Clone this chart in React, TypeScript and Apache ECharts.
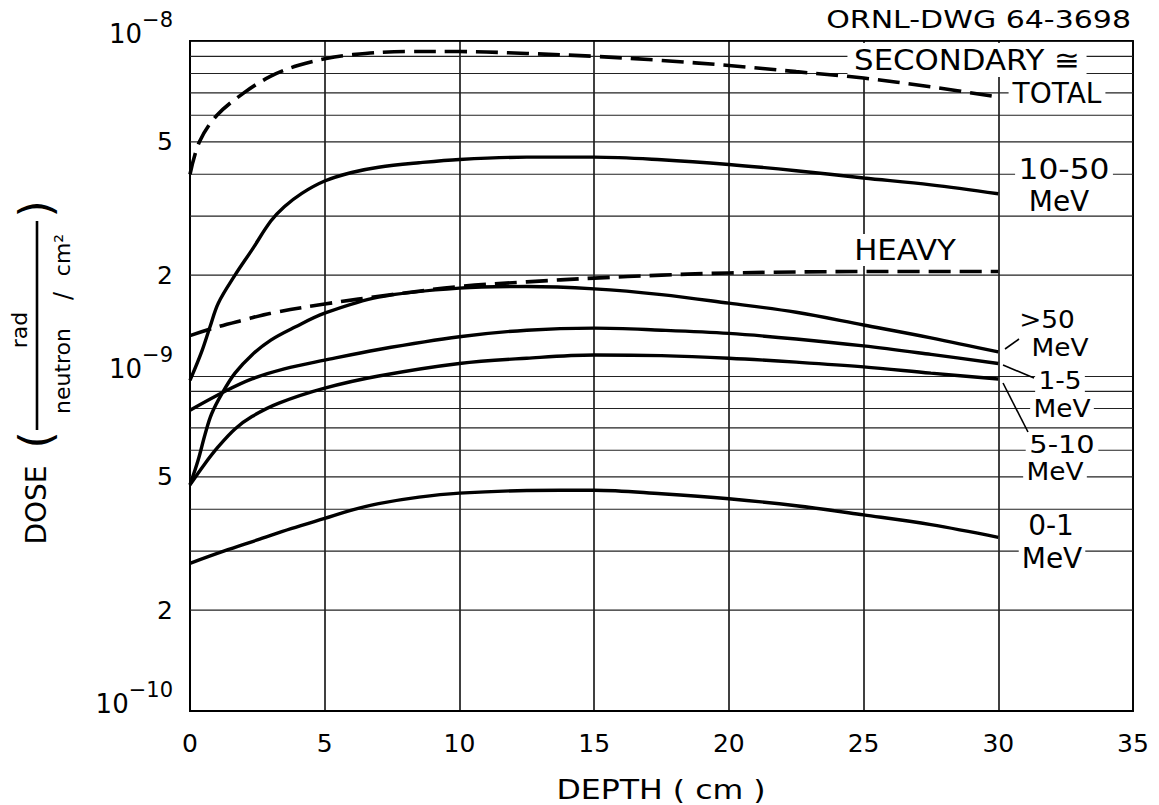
import React, { useEffect, useRef } from "react";
import * as echarts from "echarts";

const FONT = "'DejaVu Sans', sans-serif";

// Depth axis ticks (cm)
const depthTicks = [0, 5, 10, 15, 20, 25, 30, 35];

// SECONDARY ≅ TOTAL (dashed)
const totalDepth = [0, 0.35, 1, 2, 3, 4, 5, 6, 8, 10, 12.5, 15, 17.5, 20, 22.5, 25, 27.5, 30];
const totalDose = [4.0e-9, 5.0e-9, 6.0e-9, 7.0e-9, 7.85e-9, 8.45e-9, 8.85e-9, 9.1e-9, 9.3e-9, 9.3e-9, 9.18e-9, 9.0e-9, 8.75e-9, 8.45e-9, 8.1e-9, 7.75e-9, 7.3e-9, 6.8e-9];

// 10-50 MeV
const mev10to50Depth = [0, 0.43, 0.74, 1.05, 1.67, 2.3, 3.0, 3.5, 4.15, 5, 6, 7, 8.5, 10, 12.5, 15, 17.5, 20, 22.5, 25, 27.5, 30];
const mev10to50Dose = [0.97e-9, 1.18e-9, 1.4e-9, 1.65e-9, 2.0e-9, 2.38e-9, 2.9e-9, 3.2e-9, 3.51e-9, 3.82e-9, 4.05e-9, 4.2e-9, 4.33e-9, 4.43e-9, 4.5e-9, 4.5e-9, 4.42e-9, 4.28e-9, 4.1e-9, 3.9e-9, 3.72e-9, 3.5e-9];

// HEAVY (dashed)
const heavyDepth = [0, 1, 2, 3, 5, 7.5, 10, 12.5, 15, 17.5, 20, 25, 30];
const heavyDose = [1.32e-9, 1.4e-9, 1.47e-9, 1.54e-9, 1.64e-9, 1.75e-9, 1.85e-9, 1.91e-9, 1.96e-9, 2.0e-9, 2.03e-9, 2.05e-9, 2.05e-9];

// >50 MeV
const mevOver50Depth = [0, 0.3, 0.56, 0.8, 1.2, 1.67, 2.3, 3.0, 3.9, 5, 7, 10, 12.5, 15, 17.5, 20, 22.5, 25, 27.5, 30];
const mevOver50Dose = [0.473e-9, 0.56e-9, 0.67e-9, 0.77e-9, 0.89e-9, 1.02e-9, 1.156e-9, 1.28e-9, 1.4e-9, 1.54e-9, 1.72e-9, 1.83e-9, 1.85e-9, 1.82e-9, 1.75e-9, 1.65e-9, 1.55e-9, 1.42e-9, 1.3e-9, 1.18e-9];

// 1-5 MeV
const mev1to5Depth = [0, 1.3, 2.3, 3.5, 5, 7, 10, 12.5, 15, 17.5, 20, 22.5, 25, 27.5, 30];
const mev1to5Dose = [0.79e-9, 0.9e-9, 0.98e-9, 1.05e-9, 1.115e-9, 1.2e-9, 1.31e-9, 1.37e-9, 1.39e-9, 1.37e-9, 1.34e-9, 1.29e-9, 1.23e-9, 1.16e-9, 1.09e-9];

// 5-10 MeV
const mev5to10Depth = [0, 0.5, 1.05, 1.67, 2.3, 3.3, 5, 7, 10, 12.5, 15, 17.5, 20, 22.5, 25, 27.5, 30];
const mev5to10Dose = [0.473e-9, 0.54e-9, 0.615e-9, 0.695e-9, 0.757e-9, 0.83e-9, 0.92e-9, 1.0e-9, 1.09e-9, 1.13e-9, 1.155e-9, 1.15e-9, 1.13e-9, 1.1e-9, 1.065e-9, 1.02e-9, 0.98e-9];

// 0-1 MeV
const mev0to1Depth = [0, 1.25, 2.5, 3.75, 5, 6, 7, 8.5, 10, 12.5, 15, 17.5, 20, 22.5, 25, 27.5, 30];
const mev0to1Dose = [0.276e-9, 0.3e-9, 0.324e-9, 0.35e-9, 0.376e-9, 0.398e-9, 0.416e-9, 0.435e-9, 0.447e-9, 0.455e-9, 0.456e-9, 0.445e-9, 0.43e-9, 0.41e-9, 0.385e-9, 0.36e-9, 0.33e-9];

// Dose axis: decades (labelled 10^n) and minor grid values (labelled 2 and 5)
const decadeDose = [1e-10, 1e-9, 1e-8];
const minorGridDose = [2e-10, 3e-10, 4e-10, 5e-10, 6e-10, 7e-10, 8e-10, 9e-10, 2e-9, 3e-9, 4e-9, 5e-9, 6e-9, 7e-9, 8e-9, 9e-9];
const labeledMinorDose = [2e-10, 5e-10, 2e-9, 5e-9];
const labeledMinorText = ["2", "5", "2", "5"];

export default function App() {
  const ref = useRef<HTMLDivElement>(null);

  useEffect(() => {
    if (!ref.current) return;
    const chart = echarts.init(ref.current, null, { renderer: "svg" });

    const xMin = depthTicks[0];
    const xMax = depthTicks[depthTicks.length - 1];

    const pairs = (xs: number[], ys: number[]) => xs.map((x, i) => [x, ys[i]]);
    const curve = (name: string, xs: number[], ys: number[], dashed: boolean) => ({
      name,
      type: "line",
      data: pairs(xs, ys),
      showSymbol: false,
      smooth: 0.35,
      z: 3,
      silent: true,
      lineStyle: {
        color: "#000",
        width: dashed ? 3.6 : 3.4,
        type: dashed ? [22, 9] : "solid",
        cap: "butt",
      },
      emphasis: { disabled: true },
    });

    const gridSeries = minorGridDose.map((v, i) => ({
      name: `grid-${i}`,
      type: "line",
      data: [
        [xMin, v],
        [xMax, v],
      ],
      showSymbol: false,
      silent: true,
      z: 1,
      lineStyle: { color: "#222", width: 1.1 },
      emphasis: { disabled: true },
    }));

    const labelBase = { fontFamily: FONT, color: "#000", opacity: 1 };
    const labelScatter = {
      type: "scatter",
      symbolSize: 0,
      silent: true,
      z: 1,
      itemStyle: { opacity: 1, color: "#000" },
      emphasis: { disabled: true },
    };

    const minorLabelSeries = {
      ...labelScatter,
      name: "minor-labels",
      data: labeledMinorDose.map((v) => [xMin, v]),
      label: {
        ...labelBase,
        show: true,
        position: "left",
        distance: 17,
        fontSize: 25,
        formatter: (p: any) => labeledMinorText[p.dataIndex],
      },
    };

    const expOf = (v: number) => Math.round(Math.log10(v));
    const SUP_SIZE = 21;
    const supText = (v: number) => "\u2212" + String(Math.abs(expOf(v)));
    const supWidth = (v: number) => SUP_SIZE * (0.838 + 0.636 * String(Math.abs(expOf(v))).length);

    const decadeBaseSeries = {
      ...labelScatter,
      name: "decade-base",
      data: decadeDose.map((v) => ({
        value: [xMin, v],
        label: { distance: 17 + supWidth(v) },
      })),
      label: {
        ...labelBase,
        show: true,
        position: "left",
        fontSize: 26,
        offset: [0, -7],
        formatter: () => "10",
      },
    };

    const decadeSupSeries = {
      ...labelScatter,
      name: "decade-exponent",
      data: decadeDose.map((v) => [xMin, v]),
      label: {
        ...labelBase,
        show: true,
        position: "left",
        distance: 17,
        fontSize: SUP_SIZE,
        offset: [0, -21],
        formatter: (p: any) => supText(decadeDose[p.dataIndex]),
      },
    };

    const txt = (
      text: string,
      x: number,
      y: number,
      size: number,
      opts: { sx?: number; align?: string; rot?: number; bg?: boolean; pad?: number[]; lh?: number } = {}
    ) => ({
      type: "text",
      x,
      y,
      scaleX: opts.sx ?? 1,
      rotation: opts.rot ?? 0,
      z: 2,
      silent: true,
      style: {
        text,
        font: `${size}px ${FONT}`,
        fill: "#000",
        align: opts.align ?? "center",
        textAlign: opts.align ?? "center",
        verticalAlign: "middle",
        textVerticalAlign: "middle",
        lineHeight: opts.lh,
        backgroundColor: opts.bg ? "#fff" : undefined,
        padding: opts.bg ? opts.pad ?? [0, 3] : undefined,
      },
    });

    const seg = (x1: number, y1: number, x2: number, y2: number, w: number) => ({
      type: "line",
      z: 4,
      silent: true,
      shape: { x1, y1, x2, y2 },
      style: { stroke: "#000", lineWidth: w },
    });

    const option: any = {
      animation: false,
      backgroundColor: "#fff",
      grid: {
        left: 190,
        right: 26,
        top: 41,
        bottom: 94,
        show: true,
        borderColor: "#000",
        borderWidth: 1.8,
        backgroundColor: "transparent",
      },
      xAxis: {
        type: "value",
        min: xMin,
        max: xMax,
        interval: 5,
        axisLine: { show: true, lineStyle: { color: "#000", width: 1.8 } },
        axisTick: { show: false },
        axisLabel: { fontSize: 25, fontFamily: FONT, color: "#000", margin: 20 },
        splitLine: { show: true, lineStyle: { color: "#000", width: 1.5 } },
      },
      yAxis: {
        type: "log",
        logBase: 10,
        min: decadeDose[0],
        max: decadeDose[decadeDose.length - 1],
        axisLine: { show: true, lineStyle: { color: "#000", width: 1.8 } },
        axisTick: { show: false },
        axisLabel: { show: false },
        splitLine: { show: true, lineStyle: { color: "#222", width: 1.1 } },
      },
      series: [
        ...gridSeries,
        minorLabelSeries,
        decadeBaseSeries,
        decadeSupSeries,
        curve("SECONDARY ≅ TOTAL", totalDepth, totalDose, true),
        curve("10-50 MeV", mev10to50Depth, mev10to50Dose, false),
        curve("HEAVY", heavyDepth, heavyDose, true),
        curve(">50 MeV", mevOver50Depth, mevOver50Dose, false),
        curve("1-5 MeV", mev1to5Depth, mev1to5Dose, false),
        curve("5-10 MeV", mev5to10Depth, mev5to10Dose, false),
        curve("0-1 MeV", mev0to1Depth, mev0to1Dose, false),
      ],
      graphic: {
        elements: [
          txt("ORNL-DWG 64-3698", 1131, 19, 25, { sx: 1.2, align: "right" }),
          txt("SECONDARY ≅", 967, 60, 28, { sx: 1.1, bg: true, pad: [2, 6], lh: 30 }),
          txt("TOTAL", 1057, 93, 28, { bg: true, pad: [1, 4], lh: 26 }),
          txt("10-50", 1064, 169, 28, { sx: 1.12, bg: true, lh: 26 }),
          txt("MeV", 1059, 201, 28, { bg: true, lh: 26 }),
          txt("HEAVY", 905, 250, 28, { sx: 1.1, bg: true, pad: [2, 4], lh: 28 }),
          txt(">50", 1047, 320, 24, { sx: 1.1, bg: true, lh: 22 }),
          txt("MeV", 1060, 348, 24, { sx: 1.1, bg: true, lh: 22 }),
          txt("1-5", 1060, 381, 24, { sx: 1.1, bg: true, lh: 22 }),
          txt("MeV", 1062, 409, 24, { sx: 1.1, bg: true, lh: 22 }),
          txt("5-10", 1062, 444, 24, { sx: 1.2, bg: true, lh: 22 }),
          txt("MeV", 1055, 472, 24, { sx: 1.1, bg: true, lh: 22 }),
          txt("0-1", 1051, 525, 28, { bg: true, lh: 26 }),
          txt("MeV", 1052, 558, 28, { bg: true, lh: 26 }),
          seg(1005, 349, 1019, 339, 1.6),
          seg(1003, 365, 1034, 378, 1.6),
          seg(1003, 383, 1028, 432, 1.6),
          txt("DEPTH ( cm )", 661, 790, 27, { sx: 1.17 }),
          txt("DOSE", 36, 505, 28, { rot: Math.PI / 2 }),
          txt("(", 35, 440, 44, { rot: Math.PI / 2 }),
          txt("rad", 19, 330, 22, { rot: Math.PI / 2 }),
          seg(37, 221, 37, 430, 2.6),
          txt("neutron", 62, 371, 22, { rot: Math.PI / 2 }),
          txt("/", 63, 296, 24, { rot: Math.PI / 2 }),
          txt("cm²", 62, 255, 22, { rot: Math.PI / 2 }),
          txt(")", 35, 209, 44, { rot: Math.PI / 2 }),
        ],
      },
    };

    chart.setOption(option);
    return () => chart.dispose();
  }, []);

  return (
    <div
      ref={ref}
      style={{ position: "fixed", left: 0, top: 0, width: 1159, height: 805, background: "#fff" }}
    />
  );
}
